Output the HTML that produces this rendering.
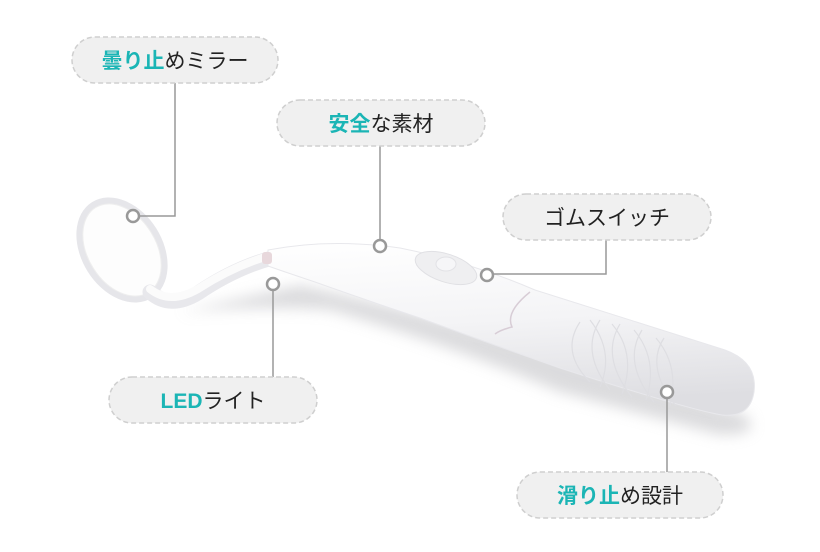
<!DOCTYPE html>
<html><head><meta charset="utf-8"><style>
body{margin:0;background:#fff;}
svg{display:block;}
text{font-family:"Liberation Sans","Noto Sans CJK JP",sans-serif;font-size:21px;fill:#222;}
.b{fill:#1bb5b5;font-weight:bold;}
</style></head><body>
<svg width="820" height="552" viewBox="0 0 820 552" xmlns="http://www.w3.org/2000/svg">
<defs>
<filter id="sh" x="-20%" y="-20%" width="140%" height="160%"><feGaussianBlur stdDeviation="7"/></filter>
<linearGradient id="bg" x1="0" y1="0" x2="0.15" y2="1"><stop offset="0" stop-color="#ffffff"/><stop offset="0.5" stop-color="#f4f4f6"/><stop offset="1" stop-color="#dedee2"/></linearGradient>
</defs>
<!-- shadow -->
<path d="M180 312 Q260 305 330 310 Q450 345 560 392 L720 435 Q765 435 745 415 L560 355 Q420 310 300 285 Z" fill="#c4c4c8" opacity="0.6" filter="url(#sh)"/>
<!-- mirror -->
<ellipse cx="122" cy="250" rx="37" ry="53" transform="rotate(-32 122 250)" fill="none" stroke="#e6e6ea" stroke-width="7"/>
<ellipse cx="122" cy="250" rx="34" ry="50" transform="rotate(-32 122 250)" fill="#fdfdfd" stroke="#eeeeee" stroke-width="1"/>
<!-- neck -->
<path d="M150 292 Q170 310 198 293 Q235 268 272 258" fill="none" stroke="#e8e8ec" stroke-width="15" stroke-linecap="round"/>
<path d="M150 289 Q170 305 198 289 Q235 265 272 255" fill="none" stroke="#fbfbfb" stroke-width="8" stroke-linecap="round"/>
<!-- body -->
<path d="M268 250 Q330 238 400 248 Q470 262 535 290 L725 350 Q758 362 754 392 Q750 418 722 415 Q690 410 560 368 Q480 340 420 318 Q360 298 315 282 Q285 272 268 266 Z" fill="url(#bg)" stroke="#e8e8ec" stroke-width="1"/>
<path d="M530 292 Q505 312 512 327 Q500 330 495 334" fill="none" stroke="#d8cdd6" stroke-width="1.5"/>
<ellipse cx="446" cy="268" rx="32" ry="14" transform="rotate(18 446 268)" fill="#efeff1" stroke="#e0e0e4"/>
<ellipse cx="446" cy="264" rx="10" ry="7" fill="#f6f6f8" stroke="#e2e2e6"/>
<rect x="262" y="252" width="10" height="12" rx="3" fill="#e8d8dc"/>
<g fill="none" stroke="#dedee2" stroke-width="1.2">
<path d="M580 322 Q560 352 590 382 M600 320 Q580 352 610 390 M620 324 Q600 357 632 397 M642 330 Q622 362 654 402 M664 338 Q645 367 676 406"/>
<path d="M590 320 Q615 352 600 387 M612 324 Q637 354 622 394 M634 330 Q659 360 646 400 M656 338 Q680 366 670 406"/>
</g>
<!-- connector lines -->
<g stroke="#999" stroke-width="1.5" fill="none">
<path d="M175 83 V216 H139"/>
<path d="M380 146 V240"/>
<path d="M606 240 V274 H493"/>
<path d="M273 290 V377"/>
<path d="M667 398 V472"/>
</g>
<g fill="#fff" stroke="#999" stroke-width="2.5">
<circle cx="133" cy="216" r="6"/>
<circle cx="380" cy="246" r="6"/>
<circle cx="487" cy="275" r="6"/>
<circle cx="273" cy="284" r="6"/>
<circle cx="667" cy="392" r="6"/>
</g>
<!-- labels -->
<g fill="#f0f0f0" stroke="#cfcfcf" stroke-width="1.5" stroke-dasharray="5 3">
<rect x="72" y="37" width="206" height="46" rx="23"/>
<rect x="277" y="100" width="208" height="46" rx="23"/>
<rect x="503" y="194" width="208" height="46" rx="23"/>
<rect x="109" y="377" width="208" height="46" rx="23"/>
<rect x="517" y="472" width="206" height="46" rx="23"/>
</g>
<text x="175" y="68" text-anchor="middle"><tspan class="b">曇り止</tspan>めミラー</text>
<text x="381" y="131" text-anchor="middle"><tspan class="b">安全</tspan>な素材</text>
<text x="607" y="225" text-anchor="middle">ゴムスイッチ</text>
<text x="213" y="408" text-anchor="middle"><tspan class="b">LED</tspan>ライト</text>
<text x="620" y="503" text-anchor="middle"><tspan class="b">滑り止</tspan>め設計</text>
</svg>
</body></html>
